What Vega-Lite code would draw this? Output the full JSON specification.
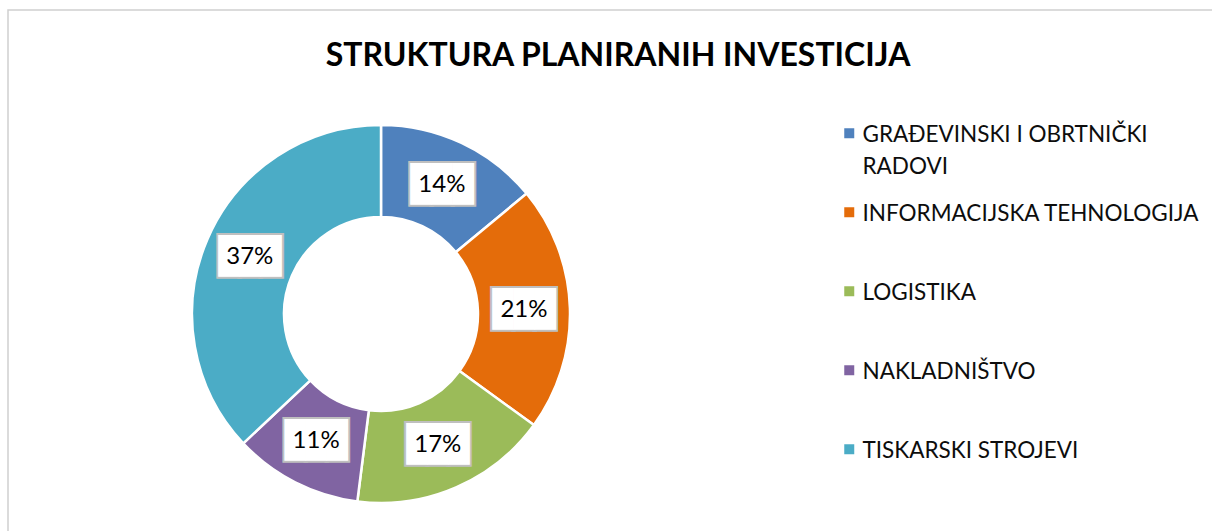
{
  "$schema": "https://vega.github.io/schema/vega-lite/v6.json",
  "autosize": "none",
  "width": 1208,
  "height": 525,
  "padding": {"left": 8, "top": 10, "right": -4, "bottom": -4},
  "background": "white",
  "view": {"stroke": "#d0d0d0", "strokeWidth": 1.5, "fill": "white"},
  "config": {
    "style": {"guide-label": {"lineHeight": 32, "dy": -9}}
  },
  "title": {
    "text": "STRUKTURA PLANIRANIH INVESTICIJA",
    "font": "Lato",
    "fontSize": 32,
    "fontWeight": "bold",
    "color": "#000000",
    "anchor": "middle",
    "frame": "group",
    "baseline": "alphabetic",
    "offset": 0,
    "dy": 88,
    "dx": 6
  },
  "data": {
    "values": [
      {"category": "GRAĐEVINSKI I OBRTNIČKI RADOVI", "share": 0.14},
      {"category": "INFORMACIJSKA TEHNOLOGIJA", "share": 0.21},
      {"category": "LOGISTIKA", "share": 0.17},
      {"category": "NAKLADNIŠTVO", "share": 0.11},
      {"category": "TISKARSKI STROJEVI", "share": 0.37}
    ]
  },
  "layer": [
    {
      "mark": {"type": "arc", "outerRadius": 189, "innerRadius": 97, "stroke": "white", "strokeWidth": 2.5, "xOffset": -231, "yOffset": 41.5},
      "encoding": {
        "theta": {"field": "share", "type": "quantitative", "stack": true},
        "order": {"field": "category", "type": "nominal", "sort": "ascending"},
        "color": {
          "field": "category",
          "type": "nominal",
          "scale": {
            "domain": ["GRAĐEVINSKI I OBRTNIČKI RADOVI", "INFORMACIJSKA TEHNOLOGIJA", "LOGISTIKA", "NAKLADNIŠTVO", "TISKARSKI STROJEVI"],
            "range": ["#4F81BD", "#E46C0A", "#9BBB59", "#8064A2", "#4BACC6"]
          },
          "legend": {
            "title": null,
            "orient": "none",
            "legendX": 830,
            "legendY": 112,
            "padding": 0,
            "symbolType": "square",
            "symbolSize": 100,
            "symbolStrokeWidth": 0,
            "labelFont": "Lato",
            "labelFontSize": 22.5,
            "labelColor": "#0d0d0d",
            "labelOffset": 2,
            "labelLimit": 400,
            "rowPadding": 22,
            "labelBaseline": "top",
            "labelExpr": "datum.label == 'GRAĐEVINSKI I OBRTNIČKI RADOVI' ? ['GRAĐEVINSKI I OBRTNIČKI', 'RADOVI'] : [datum.label, ' ']"
          }
        }
      }
    },
    {
      "mark": {"type": "text", "radius": 143, "xOffset": -231, "yOffset": 41.5, "text": "███", "font": "DejaVu Sans Mono", "fontSize": 35, "fill": "#bfbfbf", "stroke": "#bfbfbf", "strokeWidth": 4, "baseline": "middle"},
      "encoding": {
        "theta": {"field": "share", "type": "quantitative", "stack": true},
        "order": {"field": "category", "type": "nominal", "sort": "ascending"},
        "detail": {"field": "category", "type": "nominal"}
      }
    },
    {
      "mark": {"type": "text", "radius": 143, "xOffset": -231, "yOffset": 41.5, "text": "███", "font": "DejaVu Sans Mono", "fontSize": 35, "fill": "white", "baseline": "middle"},
      "encoding": {
        "theta": {"field": "share", "type": "quantitative", "stack": true},
        "order": {"field": "category", "type": "nominal", "sort": "ascending"},
        "detail": {"field": "category", "type": "nominal"}
      }
    },
    {
      "mark": {"type": "text", "radius": 143, "xOffset": -231, "yOffset": 41.5, "font": "Lato", "fontSize": 24, "fill": "#000000", "baseline": "middle"},
      "encoding": {
        "theta": {"field": "share", "type": "quantitative", "stack": true},
        "order": {"field": "category", "type": "nominal", "sort": "ascending"},
        "detail": {"field": "category", "type": "nominal"},
        "text": {"field": "share", "type": "quantitative", "format": ".0%"}
      }
    }
  ]
}
